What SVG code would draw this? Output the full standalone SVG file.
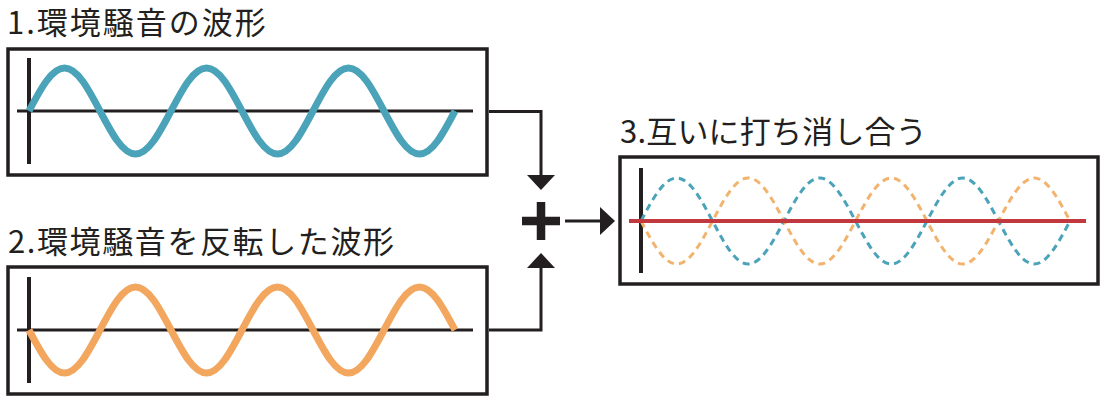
<svg xmlns="http://www.w3.org/2000/svg" width="1109" height="404" viewBox="0 0 1109 404">
<style>
.title{font-family:"Noto Sans CJK JP","Noto Sans",sans-serif;font-size:31px;fill:#231f20}
.frame{fill:none;stroke:#231f20;stroke-width:3.5}
.axis{fill:none;stroke:#231f20;stroke-width:3}
.vaxis{fill:none;stroke:#231f20;stroke-width:4}
.blue{fill:none;stroke:#4ba3b9;stroke-width:7}
.orange{fill:none;stroke:#f2a65e;stroke-width:7}
.dblue{fill:none;stroke:#4ba3b9;stroke-width:3;stroke-dasharray:7 5}
.dorange{fill:none;stroke:#f2b36e;stroke-width:3;stroke-dasharray:7 5}
.red{fill:none;stroke:#c1393e;stroke-width:4}
.conn{fill:none;stroke:#231f20;stroke-width:3}
</style>
<defs>
<marker id="arrow" viewBox="0 0 15 28" refX="0" refY="14" markerWidth="15" markerHeight="28" markerUnits="userSpaceOnUse" orient="auto">
<path d="M0,0 L15,14 L0,28 z" fill="#231f20"/>
</marker>
</defs>

<g id="node1">
<text class="title" x="7" y="34" letter-spacing="2">1.環境騒音の波形</text>
<rect class="frame" x="8" y="49" width="479" height="126"/>
<line class="vaxis" x1="29" y1="58" x2="29" y2="164"/>
<line class="axis" x1="17" y1="111" x2="473" y2="111"/>
<path class="blue" d="M29,111 c 11.58,-22.03 22.65,-43 35.5,-43 c 12.85,0 23.92,20.97 35.5,43 c 11.58,22.03 22.65,43 35.5,43 c 12.85,0 23.92,-20.97 35.5,-43 c 11.58,-22.03 22.65,-43 35.5,-43 c 12.85,0 23.92,20.97 35.5,43 c 11.58,22.03 22.65,43 35.5,43 c 12.85,0 23.92,-20.97 35.5,-43 c 11.58,-22.03 22.65,-43 35.5,-43 c 12.85,0 23.92,20.97 35.5,43 c 11.58,22.03 22.65,43 35.5,43 c 12.85,0 23.92,-20.97 35.5,-43"/>
</g>

<g id="node2">
<text class="title" x="8" y="253" letter-spacing="1.6">2.環境騒音を反転した波形</text>
<rect class="frame" x="8" y="267" width="479" height="127"/>
<line class="vaxis" x1="29" y1="277" x2="29" y2="383"/>
<line class="axis" x1="17" y1="330" x2="473" y2="330"/>
<path class="orange" d="M29,330 c 11.58,22.03 22.65,43 35.5,43 c 12.85,0 23.92,-20.97 35.5,-43 c 11.58,-22.03 22.65,-43 35.5,-43 c 12.85,0 23.92,20.97 35.5,43 c 11.58,22.03 22.65,43 35.5,43 c 12.85,0 23.92,-20.97 35.5,-43 c 11.58,-22.03 22.65,-43 35.5,-43 c 12.85,0 23.92,20.97 35.5,43 c 11.58,22.03 22.65,43 35.5,43 c 12.85,0 23.92,-20.97 35.5,-43 c 11.58,-22.03 22.65,-43 35.5,-43 c 12.85,0 23.92,20.97 35.5,43"/>
</g>

<g id="node3">
<text class="title" x="620" y="143" letter-spacing="0.2">3.互いに打ち消し合う</text>
<rect class="frame" x="620" y="157" width="478" height="127"/>
<line class="vaxis" x1="641" y1="168" x2="641" y2="273"/>
<path class="dblue" d="M641,221 c 11.66,-22.03 22.81,-43 35.75,-43 c 12.94,0 24.09,20.97 35.75,43 c 11.66,22.03 22.81,43 35.75,43 c 12.94,0 24.09,-20.97 35.75,-43 c 11.66,-22.03 22.81,-43 35.75,-43 c 12.94,0 24.09,20.97 35.75,43 c 11.66,22.03 22.81,43 35.75,43 c 12.94,0 24.09,-20.97 35.75,-43 c 11.66,-22.03 22.81,-43 35.75,-43 c 12.94,0 24.09,20.97 35.75,43 c 11.66,22.03 22.81,43 35.75,43 c 12.94,0 24.09,-20.97 35.75,-43"/>
<path class="dorange" d="M641,221 c 11.66,22.03 22.81,43 35.75,43 c 12.94,0 24.09,-20.97 35.75,-43 c 11.66,-22.03 22.81,-43 35.75,-43 c 12.94,0 24.09,20.97 35.75,43 c 11.66,22.03 22.81,43 35.75,43 c 12.94,0 24.09,-20.97 35.75,-43 c 11.66,-22.03 22.81,-43 35.75,-43 c 12.94,0 24.09,20.97 35.75,43 c 11.66,22.03 22.81,43 35.75,43 c 12.94,0 24.09,-20.97 35.75,-43 c 11.66,-22.03 22.81,-43 35.75,-43 c 12.94,0 24.09,20.97 35.75,43"/>
<line class="red" x1="629" y1="221" x2="1086" y2="221"/>
</g>

<g id="plus">
<path d="M522,221 H560 M541,202 V240" fill="none" stroke="#231f20" stroke-width="8.5"/>
</g>

<g id="connectors">
<path class="conn" d="M489,111.5 H541 V175" marker-end="url(#arrow)"/>
<path class="conn" d="M489,330 H541 V268" marker-end="url(#arrow)"/>
<path class="conn" d="M565,221 H600" marker-end="url(#arrow)"/>
</g>
</svg>
